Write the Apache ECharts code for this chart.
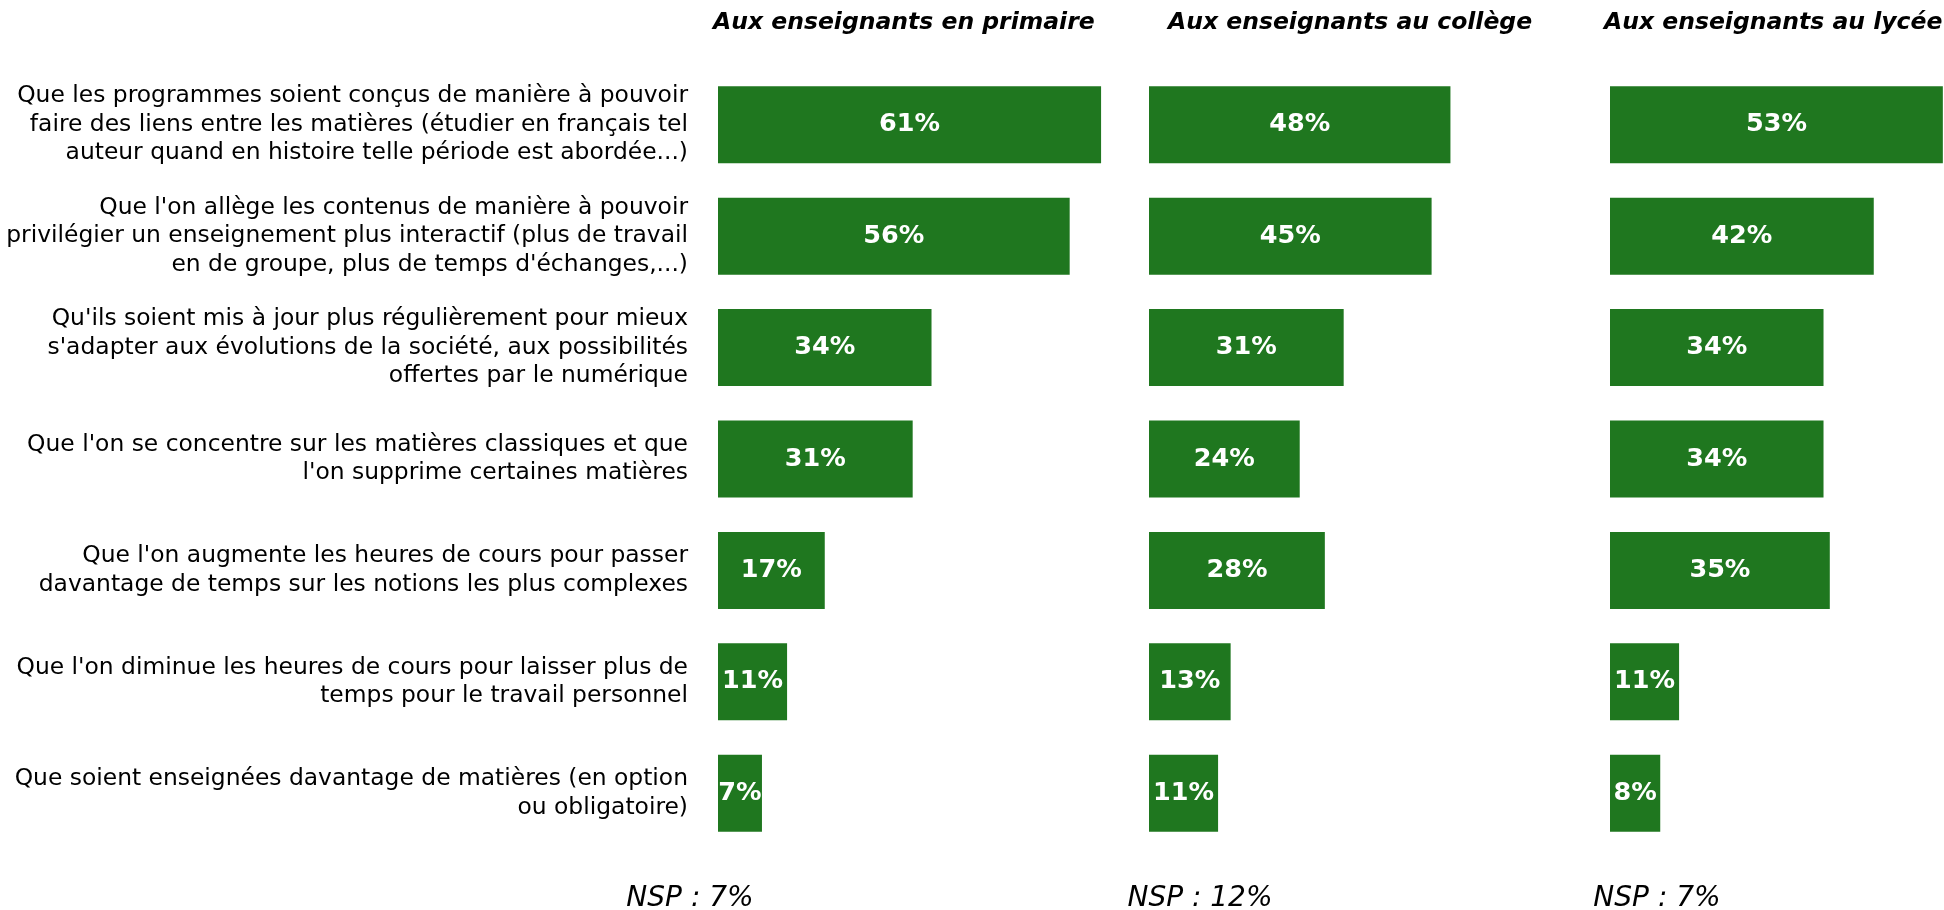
<!DOCTYPE html>
<html>
<head>
<meta charset="utf-8">
<script src="https://cdn.jsdelivr.net/npm/echarts@6/dist/echarts.min.js"></script>
<style>
  html, body { margin: 0; padding: 0; background: #ffffff; }
  #chart { width: 1944px; height: 910px; }
</style>
</head>
<body>
<div id="chart"></div>
<script>
// ---- Data ----
const categories = [
  "Que les programmes soient conçus de manière à pouvoir\nfaire des liens entre les matières (étudier en français tel\nauteur quand en histoire telle période est abordée...)",
  "Que l'on allège les contenus de manière à pouvoir\nprivilégier un enseignement plus interactif (plus de travail\nen de groupe, plus de temps d'échanges,...)",
  "Qu'ils soient mis à jour plus régulièrement pour mieux\ns'adapter aux évolutions de la société, aux possibilités\nofferts par le numérique",
  "Que l'on se concentre sur les matières classiques et que\nl'on supprime certaines matières",
  "Que l'on augmente les heures de cours pour passer\ndavantage de temps sur les notions les plus complexes",
  "Que l'on diminue les heures de cours pour laisser plus de\ntemps pour le travail personnel",
  "Que soient enseignées davantage de matières (en option\nou obligatoire)"
];
categories[2] = categories[2].replace("offerts par", "offertes par");

const panelTitles = ["Aux enseignants en primaire", "Aux enseignants au collège", "Aux enseignants au lycée"];
const primaire = [61, 56, 34, 31, 17, 11, 7];
const college  = [48, 45, 31, 24, 28, 13, 11];
const lycee    = [53, 42, 34, 34, 35, 11, 8];
const nspLabels = ["NSP : 7%", "NSP : 12%", "NSP : 7%"];

// ---- Layout ----
const series = [primaire, college, lycee];
const gridLefts = [718, 1149, 1610];
const pxPerPct = 6.28;
const chartWidth = 1944;
const gridWidths = gridLefts.map(l => Math.min(70 * pxPerPct, chartWidth - l));
const xMaxes = gridWidths.map(w => w / pxPerPct);
const gridTop = 69, gridHeight = 780;
const green = '#1f771f';
const labelFont = '"DejaVu Sans", Verdana, sans-serif';

const chart = echarts.init(document.getElementById('chart'), null, { renderer: 'canvas' });

const grids = gridLefts.map((l, i) => ({ left: l, top: gridTop, width: gridWidths[i], height: gridHeight, containLabel: false }));
const xAxes = gridLefts.map((l, i) => ({
  gridIndex: i, type: 'value', min: 0, max: xMaxes[i], show: false
}));
const yAxes = gridLefts.map((l, i) => ({
  gridIndex: i, type: 'category', data: categories, inverse: true,
  axisLine: { show: false }, axisTick: { show: false }, splitLine: { show: false },
  axisLabel: {
    show: i === 0, margin: 30, color: '#000', fontSize: 23.4, lineHeight: 28.5,
    fontFamily: labelFont, align: 'right'
  }
}));

const barSeries = series.map((d, i) => ({
  type: 'bar', xAxisIndex: i, yAxisIndex: i, data: d, barWidth: 77,
  itemStyle: { color: green },
  label: {
    show: true, position: 'inside', formatter: '{c}%', color: '#fff',
    fontWeight: 'bold', fontSize: 25.5, fontFamily: '"DejaVu Sans", sans-serif'
  },
  silent: true, animation: false
}));

const titleLefts = [708, 1163, 1599];
const nspCenters = [685, 1195, 1652];
const titles = panelTitles.map((t, i) => ({
  text: t, left: titleLefts[i], top: 6,
  textStyle: { fontSize: 23.5, fontWeight: 'bold', fontStyle: 'italic', color: '#000', fontFamily: labelFont }
})).concat(nspLabels.map((t, i) => ({
  text: t, left: nspCenters[i], top: 880, textAlign: 'center',
  textStyle: { fontSize: 28, fontWeight: 'normal', fontStyle: 'italic', color: '#000', fontFamily: labelFont }
})));

chart.setOption({
  backgroundColor: '#ffffff',
  animation: false,
  title: titles,
  grid: grids,
  xAxis: xAxes,
  yAxis: yAxes,
  series: barSeries
});
</script>
</body>
</html>
